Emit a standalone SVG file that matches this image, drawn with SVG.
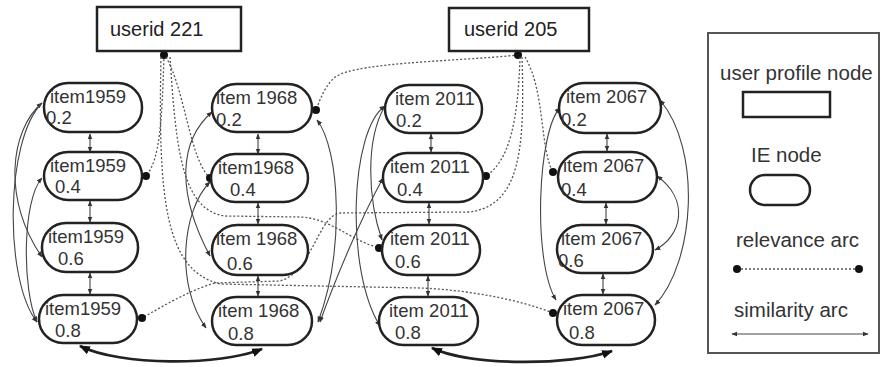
<svg xmlns="http://www.w3.org/2000/svg" width="881" height="367" viewBox="0 0 881 367">
<defs>
<style>
.txt{font-family:"Liberation Sans",Arial,sans-serif;font-size:18.5px;fill:#333}
.utxt{font-family:"Liberation Sans",Arial,sans-serif;font-size:20px;fill:#222}
.ltxt{font-family:"Liberation Sans",Arial,sans-serif;font-size:20.5px;fill:#333}
.ie{fill:#fff;stroke:#222;stroke-width:2.5}
.up{fill:#fff;stroke:#222;stroke-width:2.5}
.rel{fill:none;stroke:#555;stroke-width:1.3;stroke-dasharray:2 2}
.sim{fill:none;stroke:#444;stroke-width:1.1}
.big{fill:none;stroke:#222;stroke-width:2.6}
</style>
<marker id="dot" viewBox="0 0 10 10" refX="5" refY="5" markerWidth="8" markerHeight="8" markerUnits="userSpaceOnUse"><circle cx="5" cy="5" r="5" fill="#111"/></marker>
<marker id="ar" viewBox="0 0 10 10" refX="9" refY="5" markerWidth="6" markerHeight="6" markerUnits="userSpaceOnUse" orient="auto-start-reverse"><path d="M0,1 L10,5 L0,9 Z" fill="#333"/></marker>
<marker id="bar" viewBox="0 0 10 10" refX="9" refY="5" markerWidth="11" markerHeight="11" markerUnits="userSpaceOnUse" orient="auto-start-reverse"><path d="M0,1 L10,5 L0,9 Z" fill="#111"/></marker>
</defs>
<rect width="881" height="367" fill="#fff"/>

<g id="connectors">
<!-- relevance arcs -->
<path class="rel" d="M164,55 C162,120 160,160 146,176" marker-start="url(#dot)" marker-end="url(#dot)"/>
<path class="rel" d="M166,57 C185,90 190,160 210,178" marker-end="url(#dot)"/>
<path class="rel" d="M170,57 C176,150 182,210 225,216 L300,217 C330,218 350,240 379,248" marker-end="url(#dot)"/>
<path class="rel" d="M161,57 C158,200 165,270 220,284 L420,288 C470,290 520,300 553,313" marker-end="url(#dot)"/>
<path class="rel" d="M518,55 C450,62 345,62 332,80 C323,90 320,100 316,110" marker-start="url(#dot)" marker-end="url(#dot)"/>
<path class="rel" d="M520,57 C518,120 510,160 486,176" marker-end="url(#dot)"/>
<path class="rel" d="M525,57 C545,90 540,150 553,172" marker-end="url(#dot)"/>
<path class="rel" d="M522,57 C525,150 520,205 470,212 L340,213 C318,216 312,272 280,281 L215,283 C190,290 165,305 142,318" marker-end="url(#dot)"/>
<!-- short vertical similarity arcs -->
<path class="sim" d="M90,134 V152" marker-start="url(#ar)" marker-end="url(#ar)"/>
<path class="sim" d="M90,201 V222" marker-start="url(#ar)" marker-end="url(#ar)"/>
<path class="sim" d="M90,273 V294" marker-start="url(#ar)" marker-end="url(#ar)"/>
<path class="sim" d="M258,134 V154" marker-start="url(#ar)" marker-end="url(#ar)"/>
<path class="sim" d="M258,203 V224" marker-start="url(#ar)" marker-end="url(#ar)"/>
<path class="sim" d="M258,276 V296" marker-start="url(#ar)" marker-end="url(#ar)"/>
<path class="sim" d="M431,134 V152" marker-start="url(#ar)" marker-end="url(#ar)"/>
<path class="sim" d="M429,203 V224" marker-start="url(#ar)" marker-end="url(#ar)"/>
<path class="sim" d="M428,276 V296" marker-start="url(#ar)" marker-end="url(#ar)"/>
<path class="sim" d="M607,134 V151" marker-start="url(#ar)" marker-end="url(#ar)"/>
<path class="sim" d="M606,203 V224" marker-start="url(#ar)" marker-end="url(#ar)"/>
<path class="sim" d="M603,274 V294" marker-start="url(#ar)" marker-end="url(#ar)"/>
<!-- long similarity arcs -->
<path class="sim" d="M42,103 C10,130 2,200 42,257" marker-start="url(#ar)" marker-end="url(#ar)"/>
<path class="sim" d="M42,103 C5,140 4,280 37,322" marker-end="url(#ar)"/>
<path class="sim" d="M42,178 C22,200 22,290 37,322" marker-start="url(#ar)" marker-end="url(#ar)"/>
<path class="sim" d="M212,112 C180,140 175,190 210,256" marker-start="url(#ar)" marker-end="url(#ar)"/>
<path class="sim" d="M210,182 C182,210 175,285 206,328" marker-start="url(#ar)" marker-end="url(#ar)"/>
<path class="sim" d="M317,120 C340,150 345,250 318,322" marker-start="url(#ar)" marker-end="url(#ar)"/>
<path class="sim" d="M385,106 C350,130 345,270 380,326" marker-start="url(#ar)" marker-end="url(#ar)"/>
<path class="sim" d="M385,106 C365,140 368,200 382,240" marker-end="url(#ar)"/>
<path class="sim" d="M383,178 C360,220 335,280 320,322" marker-start="url(#ar)" marker-end="url(#ar)"/>
<path class="sim" d="M560,108 C538,130 532,260 556,300" marker-start="url(#ar)" marker-end="url(#ar)"/>
<path class="sim" d="M660,100 C702,150 695,262 655,305" marker-start="url(#ar)" marker-end="url(#ar)"/>
<path class="sim" d="M657,176 C690,200 682,236 655,250" marker-start="url(#ar)" marker-end="url(#ar)"/>
<!-- bottom heavy arcs -->
<path class="big" d="M80,346 C120,366 220,366 262,349" marker-start="url(#bar)" marker-end="url(#bar)"/>
<path class="big" d="M432,348 C470,366 570,366 612,351" marker-start="url(#bar)" marker-end="url(#bar)"/>
</g>

<g id="user221"><rect class="up" x="97" y="7" width="144" height="44"/><text class="utxt" x="110" y="36">userid 221</text></g>
<g id="user205"><rect class="up" x="449" y="8" width="140" height="43"/><text class="utxt" x="464" y="36">userid 205</text></g>

<g id="i1959_02"><rect class="ie" x="44" y="83" width="98" height="49" rx="24"/><text class="txt" x="50" y="103">item1959</text><text class="txt" x="46" y="124">0.2</text></g>
<g id="i1959_04"><rect class="ie" x="44" y="152" width="98" height="48" rx="24"/><text class="txt" x="50" y="172">item1959</text><text class="txt" x="55" y="193">0.4</text></g>
<g id="i1959_06"><rect class="ie" x="42" y="223" width="96" height="49" rx="24"/><text class="txt" x="48" y="243">item1959</text><text class="txt" x="58" y="265">0.6</text></g>
<g id="i1959_08"><rect class="ie" x="39" y="295" width="98" height="48" rx="24"/><text class="txt" x="45" y="315">item1959</text><text class="txt" x="55" y="337">0.8</text></g>

<g id="i1968_02"><rect class="ie" x="212" y="84" width="100" height="48" rx="24"/><text class="txt" x="216" y="104">item 1968</text><text class="txt" x="216" y="126">0.2</text></g>
<g id="i1968_04"><rect class="ie" x="211" y="154" width="97" height="48" rx="24"/><text class="txt" x="218" y="174">item1968</text><text class="txt" x="230" y="196">0.4</text></g>
<g id="i1968_06"><rect class="ie" x="212" y="225" width="96" height="50" rx="25"/><text class="txt" x="216" y="245">item 1968</text><text class="txt" x="227" y="270">0.6</text></g>
<g id="i1968_08"><rect class="ie" x="212" y="297" width="100" height="48" rx="24"/><text class="txt" x="218" y="317">item 1968</text><text class="txt" x="228" y="340">0.8</text></g>

<g id="i2011_02"><rect class="ie" x="385" y="85" width="97" height="48" rx="24"/><text class="txt" x="395" y="105">item 2011</text><text class="txt" x="396" y="127">0.2</text></g>
<g id="i2011_04"><rect class="ie" x="383" y="153" width="100" height="49" rx="24"/><text class="txt" x="390" y="173">item 2011</text><text class="txt" x="397" y="196">0.4</text></g>
<g id="i2011_06"><rect class="ie" x="382" y="225" width="98" height="50" rx="25"/><text class="txt" x="390" y="245">item 2011</text><text class="txt" x="395" y="268">0.6</text></g>
<g id="i2011_08"><rect class="ie" x="379" y="297" width="99" height="48" rx="24"/><text class="txt" x="389" y="317">item 2011</text><text class="txt" x="395" y="339">0.8</text></g>

<g id="i2067_02"><rect class="ie" x="559" y="83" width="102" height="50" rx="25"/><text class="txt" x="566" y="103">item 2067</text><text class="txt" x="561" y="126">0.2</text></g>
<g id="i2067_04"><rect class="ie" x="558" y="152" width="99" height="50" rx="25"/><text class="txt" x="563" y="172">item 2067</text><text class="txt" x="561" y="196">0.4</text></g>
<g id="i2067_06"><rect class="ie" x="557" y="225" width="96" height="48" rx="24"/><text class="txt" x="561" y="245">item 2067</text><text class="txt" x="558" y="267">0.6</text></g>
<g id="i2067_08"><rect class="ie" x="557" y="295" width="98" height="50" rx="25"/><text class="txt" x="563" y="315">item 2067</text><text class="txt" x="569" y="339">0.8</text></g>

<g id="legend">
<rect x="708" y="33" width="171" height="320" fill="none" stroke="#555" stroke-width="2"/>
<text class="ltxt" x="720" y="80">user profile node</text>
<rect x="743" y="92" width="87" height="25" fill="#fff" stroke="#222" stroke-width="2.5"/>
<text class="ltxt" x="751" y="162">IE node</text>
<rect x="750" y="175" width="60" height="30" rx="15" fill="#fff" stroke="#222" stroke-width="2.5"/>
<text class="ltxt" x="736" y="247">relevance arc</text>
<path class="rel" d="M737,269 H859" marker-start="url(#dot)" marker-end="url(#dot)"/>
<text class="ltxt" x="734" y="317">similarity arc</text>
<path class="sim" d="M732,334 H868" marker-start="url(#ar)" marker-end="url(#ar)"/>
</g>
</svg>
